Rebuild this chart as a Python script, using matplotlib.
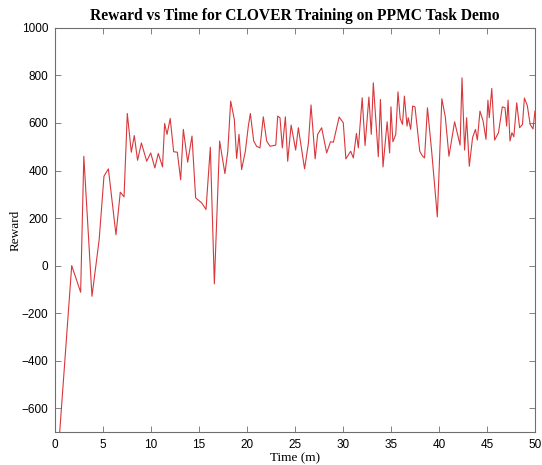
import matplotlib.pyplot as plt

# time in minutes, reward per episode
minutes = [0.4, 1.74, 2.67, 3.0, 3.85, 4.6, 5.1, 5.56, 6.35, 6.8, 7.19, 7.53, 7.95,
           8.26, 8.6, 9.0, 9.55, 9.97, 10.4, 10.76, 11.2, 11.42, 11.67, 12.0, 12.36,
           12.74, 13.09, 13.37, 13.82, 14.27, 14.65, 15.28, 15.73, 16.18, 16.6, 17.15,
           17.7, 18.0, 18.3, 18.68, 18.92, 19.17, 19.44, 19.83, 20.14, 20.35, 20.7,
           21.0, 21.35, 21.7, 22.05, 22.4, 23.0, 23.2, 23.44, 23.68, 24.0, 24.24,
           24.6, 25.07, 25.35, 26.0, 26.4, 26.67, 27.1, 27.36, 27.78, 28.3, 28.7,
           29.0, 29.6, 30.03, 30.3, 30.8, 31.08, 31.4, 31.6, 32.0, 32.3, 32.7, 32.95,
           33.16, 33.68, 33.9, 34.17, 34.6, 34.86, 35.0, 35.2, 35.5, 35.73, 35.96,
           36.2, 36.4, 36.67, 36.8, 37.05, 37.26, 37.5, 38.0, 38.3, 38.5, 38.8,
           39.24, 39.83, 40.3, 40.66, 41.04, 41.63, 42.2, 42.4, 42.67, 42.88, 43.16,
           43.5, 43.8, 44.0, 44.27, 44.6, 44.9, 45.1, 45.24, 45.5, 45.8, 46.2, 46.6,
           46.88, 47.05, 47.2, 47.4, 47.6, 47.8, 48.1, 48.4, 48.7, 48.9, 49.2, 49.5,
           49.8, 50.0]
reward = [-750, 0, -112, 460, -129, 109, 376, 407, 130, 309, 289, 640, 477,
          547, 443, 516, 439, 474, 411, 472, 415, 598, 552, 619, 479,
          477, 361, 573, 435, 545, 285, 264, 236, 498, -77, 524,
          387, 481, 692, 615, 451, 552, 404, 481, 587, 640, 524,
          502, 495, 626, 524, 502, 507, 629, 622, 495, 626, 439,
          591, 486, 580, 407, 516, 676, 449, 552, 580, 474, 521,
          519, 625, 601, 449, 481, 453, 556, 495, 706, 505, 709, 552,
          769, 458, 699, 415, 605, 474, 668, 521, 552, 731, 619,
          594, 713, 587, 622, 573, 671, 668, 481, 460, 453, 664,
          481, 205, 702, 626, 460, 605, 507, 790, 486, 622, 418,
          538, 573, 528, 650, 608, 531, 696, 622, 745, 528, 559, 668,
          664, 587, 696, 524, 559, 542, 685, 580, 594, 705, 674, 594,
          575, 650]

x_ticks = list(range(0, 51, 5))
y_ticks = list(range(-600, 1001, 200))

serif = ['Liberation Serif', 'DejaVu Serif']
sans = ['Liberation Sans', 'DejaVu Sans']
edge = '#6e6e6e'

fig = plt.figure(figsize=(5.42, 4.65), dpi=100)
ax = fig.add_axes([0.1015, 0.071, 0.8855, 0.869])

ax.plot(minutes, reward, color='#d8383c', linewidth=0.8)

ax.set_xlim(0, 50)
ax.set_ylim(-700, 1000)
ax.set_xticks(x_ticks)
ax.set_yticks(y_ticks)
ax.tick_params(direction='in', top=True, right=True, length=4, width=0.6,
               color=edge, labelsize=8.5, pad=5)
for lab in ax.get_xticklabels() + ax.get_yticklabels():
    lab.set_family(sans)
for s in ax.spines.values():
    s.set_color(edge)
    s.set_linewidth(0.8)

ax.set_title('Reward vs Time for CLOVER Training on PPMC Task Demo',
             family=serif, fontweight='bold', fontsize=11.2, pad=6)
ax.set_xlabel('Time (m)', family=serif, fontsize=9.5, labelpad=1)
ax.set_ylabel('Reward', family=serif, fontsize=9.5, labelpad=0)

fig.savefig('out.png', dpi=100)
